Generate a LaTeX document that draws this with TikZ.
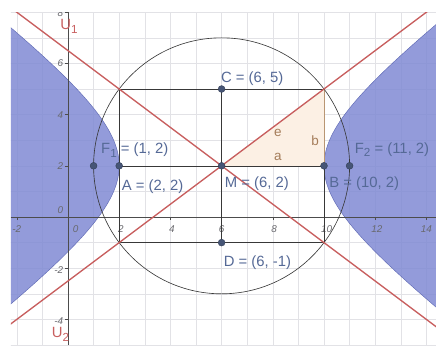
\documentclass[tikz,border=0pt]{standalone}
\usepackage{fontspec}
\setmainfont{Liberation Sans}
\definecolor{ptcol}{RGB}{70,85,118}
\definecolor{lblcol}{RGB}{85,105,150}
\definecolor{redcol}{RGB}{200,95,95}
\definecolor{bluefill}{RGB}{128,138,212}
\definecolor{bluedraw}{RGB}{95,105,180}
\definecolor{tancol}{RGB}{185,150,115}
\definecolor{peach}{RGB}{252,240,228}
\definecolor{gridcol}{RGB}{226,226,230}
\definecolor{tickcol}{RGB}{105,105,110}
\definecolor{abecol}{RGB}{165,125,90}
\newcommand{\lsub}[1]{\raisebox{-0.45ex}{\fontsize{13}{13}\selectfont #1}}
\begin{document}
\begin{tikzpicture}[x=1cm,y=1cm,
  pt/.style={circle,fill=ptcol,draw=ptcol!70!black,line width=0.4pt,inner sep=0pt,minimum size=0.27cm},
  lbl/.style={text=lblcol,font=\fontsize{16.5}{18}\selectfont,inner sep=0pt},
  tlbl/.style={text=tickcol,font=\fontsize{11}{12}\selectfont\itshape,inner sep=0pt},
  ulbl/.style={text=redcol,font=\fontsize{16.5}{18}\selectfont,inner sep=0pt},
  abe/.style={text=abecol,font=\fontsize{15}{16}\selectfont,inner sep=0pt},
  seg/.style={draw=black!78,line width=0.7pt},
  asym/.style={draw=redcol,line width=1.5pt},
  axis/.style={draw=black!70,line width=0.7pt}]
\useasboundingbox (-2.656,-5.0) rectangle (14.375,8.477);
\begin{scope}
\clip (-2.227,-5.0) rectangle (14.375,8.008);
% grid
\draw[gridcol,line width=0.5pt] (-3,-6) grid (15,9);
% shaded regions outside the hyperbola
\fill[bluefill,fill opacity=0.85] (-12,-12) -- plot[domain=-2.6:2.6,samples=120,variable=\t] ({6-4*cosh(\t)},{2+3*sinh(\t)}) -- (-12,16) -- cycle;
\fill[bluefill,fill opacity=0.85] (24,-12) -- plot[domain=-2.6:2.6,samples=120,variable=\t] ({6+4*cosh(\t)},{2+3*sinh(\t)}) -- (24,16) -- cycle;
\draw[bluedraw,line width=0.5pt] plot[domain=-2.6:2.6,samples=120,variable=\t] ({6-4*cosh(\t)},{2+3*sinh(\t)});
\draw[bluedraw,line width=0.5pt] plot[domain=-2.6:2.6,samples=120,variable=\t] ({6+4*cosh(\t)},{2+3*sinh(\t)});
% axes
\coordinate (xl) at (-2.227,0);
\coordinate (xr) at (14.375,0);
\coordinate (yb) at (0,-5.0);
\coordinate (yt) at (0,8.008);
\draw[axis] (xl) -- (xr);
\draw[axis] (yb) -- (yt);
\foreach \v in {-2,2,4,6,8,10,12,14} \draw[axis,line width=0.5pt] (\v,0) -- (\v,-0.1);
\foreach \v in {-4,-2,2,4,6,8} \draw[axis,line width=0.5pt] (0,\v) -- (-0.1,\v);
% tick labels
\node[tlbl] (tx1) at (-2.0,-0.47) {-2};
\node[tlbl] (tx2) at (0.3,-0.47) {0};
\node[tlbl] (tx3) at (2.07,-0.47) {2};
\node[tlbl] (tx4) at (4.06,-0.47) {4};
\node[tlbl] (tx5) at (6.0,-0.47) {6};
\node[tlbl] (tx6) at (8.05,-0.47) {8};
\node[tlbl] (tx7) at (10.1,-0.47) {10};
\node[tlbl] (tx8) at (12.07,-0.47) {12};
\node[tlbl] (tx9) at (14.0,-0.47) {14};
\node[tlbl,anchor=east] (ty1) at (-0.18,7.97) {8};
\node[tlbl,anchor=east] (ty2) at (-0.18,6.0) {6};
\node[tlbl,anchor=east] (ty3) at (-0.18,4.0) {4};
\node[tlbl,anchor=east] (ty4) at (-0.18,2.0) {2};
\node[tlbl,anchor=east] (ty5) at (-0.18,0.27) {0};
\node[tlbl,anchor=east] (ty6) at (-0.18,-2.07) {-2};
\node[tlbl,anchor=east] (ty7) at (-0.18,-4.06) {-4};
% key points
\coordinate (F1) at (1,2);
\coordinate (A) at (2,2);
\coordinate (M) at (6,2);
\coordinate (B) at (10,2);
\coordinate (F2) at (11,2);
\coordinate (C) at (6,5);
\coordinate (D) at (6,-1);
\coordinate (TL) at (2,5);
\coordinate (TR) at (10,5);
\coordinate (BL) at (2,-1);
\coordinate (BR) at (10,-1);
% triangle a, b, e
\fill[peach] (M) -- (B) -- (TR) -- cycle;
% rectangle and axes of the hyperbola
\draw[seg] (TL) -- (TR);
\draw[seg] (BL) -- (BR);
\draw[seg] (TL) -- (BL);
\draw[seg] (BR) -- (B);
\draw[tancol,line width=0.8pt] (B) -- (TR);
\draw[seg] (C) -- (D);
\draw[seg] (A) -- (B);
% circle through the foci
\draw[seg] (M) circle (5);
% asymptotes
\coordinate (U1a) at (-3,8.75);
\coordinate (U1b) at (15,-4.75);
\coordinate (U2a) at (-3,-4.75);
\coordinate (U2b) at (15,8.75);
\draw[asym] (U1a) -- (M) -- (U1b);
\draw[asym] (U2a) -- (M) -- (U2b);
% points
\node[pt] (pF1) at (F1) {};
\node[pt] (pA) at (A) {};
\node[pt] (pM) at (M) {};
\node[pt] (pB) at (B) {};
\node[pt] (pF2) at (F2) {};
\node[pt] (pC) at (C) {};
\node[pt] (pD) at (D) {};
% labels
\node[lbl,anchor=base west] (lC) at (5.97,5.27) {C = (6, 5)};
\node[lbl,anchor=base west] (lD) at (6.08,-1.95) {D = (6, -1)};
\node[lbl,anchor=base west] (lM) at (6.12,1.15) {M = (6, 2)};
\node[lbl,anchor=base west] (lB) at (10.2,1.15) {B = (10, 2)};
\node[lbl,anchor=base west] (lA) at (2.1,1.03) {A = (2, 2)};
\node[lbl,anchor=base west] (lF1) at (1.29,2.47) {F\lsub{1} = (1, 2)};
\node[lbl,anchor=base west] (lF2) at (11.2,2.5) {F\lsub{2} = (11, 2)};
\node[abe] (le) at (8.2,3.3) {e};
\node[abe] (lb) at (9.65,2.97) {b};
\node[abe] (la) at (8.2,2.36) {a};
\node[ulbl,anchor=west] (lU1) at (-0.3,7.45) {U\lsub{1}};
\node[ulbl,anchor=south west] (lU2) at (-0.64,-4.86) {U\lsub{2}};
\end{scope}
\end{tikzpicture}
\end{document}
